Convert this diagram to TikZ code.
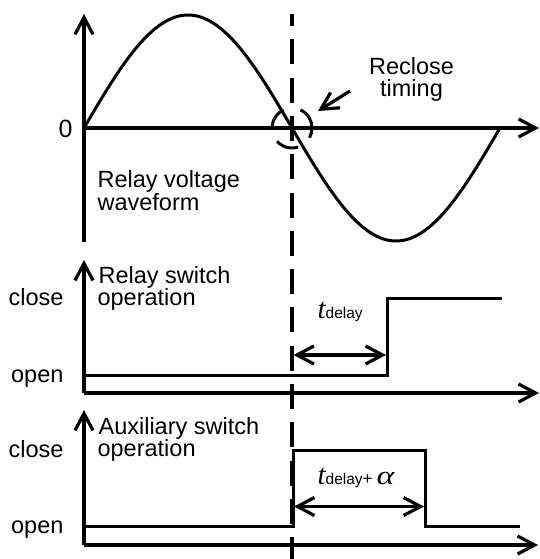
\documentclass[tikz,border=0pt]{standalone}
\usepackage{fontspec}
\setmainfont{Liberation Sans}
\newfontfamily\serifont{Liberation Serif}
\usetikzlibrary{arrows.meta}
\begin{document}
\begin{tikzpicture}[x=1pt,y=-1pt,
  line width=3.2pt,
  barb/.tip={Straight Barb[length=17pt,width=18pt]},
  ax/.style={-barb},
  dbl/.style={barb-barb},
  wave/.style={line width=3pt},
  level/.style={line width=3pt},
  guide/.style={line width=3.2pt, dash pattern=on 25pt off 13.3pt, dash phase=13pt},
  ring/.style={line width=3pt},
  lbl/.style={inner sep=0pt, font=\fontsize{23.5}{24}\selectfont}]
\useasboundingbox (0,0) rectangle (540,559);

% ---------- top panel: relay voltage ----------
\coordinate (o1) at (84,128);
\coordinate (y1top) at (84,14);
\coordinate (y1bot) at (84,242);
\coordinate (x1end) at (539,128);
\draw[ax] (y1bot) -- (y1top);
\draw[ax] (o1) -- (x1end);
\draw[wave] plot[domain=0:416, samples=140, smooth] ({84+\x}, {128-113*sin(\x/208*180)});

\node[lbl, anchor=base] (zero) at (65.5,137) {\fontsize{25}{25}\selectfont 0};
\node[lbl, anchor=base] (rc1) at (411.5,75) {Reclose};
\node[lbl, anchor=base] (rc2) at (411.5,97) {timing};
\node[lbl, anchor=base west] (rv1) at (96,187) {Relay voltage};
\node[lbl, anchor=base west] (rv2) at (96,210) {waveform};

% reclose marker
\coordinate (cross) at (292,128);
\draw[ring] (cross) ++(-115:20) arc[start angle=-115, end angle=-175, radius=20];
\draw[ring] (cross) ++(-222:20) arc[start angle=-222, end angle=-288, radius=20];
\draw[ring] (cross) ++(29:20) arc[start angle=29, end angle=-65, radius=20];
\coordinate (rcfrom) at (350,91);
\coordinate (rcto) at (318,111);
\draw[ax] (rcfrom) -- (rcto);

% ---------- dashed timing line ----------
\coordinate (dtop) at (292,14);
\coordinate (dbot) at (292,559);
\draw[guide] (dtop) -- (dbot);

% ---------- middle panel: relay switch ----------
\coordinate (o2) at (84,393);
\coordinate (y2top) at (84,260);
\coordinate (x2end) at (539,393);
\draw[ax] (o2) -- (y2top);
\draw[ax] (o2) -- (x2end);
\coordinate (r0) at (84,375);
\coordinate (r1) at (387,375);
\coordinate (r2) at (387,298);
\coordinate (r3) at (502,298);
\draw[level] (r0) -- (r1) -- (r2) -- (r3);
\coordinate (d2a) at (293.5,355);
\coordinate (d2b) at (386,355);
\draw[dbl] (d2a) -- (d2b);
\node[lbl, anchor=base west] (td1) at (316,318)
  {{\serifont\itshape\fontsize{29}{29}\selectfont t}{\fontsize{15.5}{16}\selectfont delay}};
\node[lbl, anchor=base east] (cl2) at (65,305) {close};
\node[lbl, anchor=base east] (op2) at (65,382) {open};
\node[lbl, anchor=base west] (rs1) at (97,283) {Relay switch};
\node[lbl, anchor=base west] (rs2) at (96,305.5) {operation};

% ---------- bottom panel: auxiliary switch ----------
\coordinate (o3) at (84,545);
\coordinate (y3top) at (84,410);
\coordinate (x3end) at (538,545);
\draw[ax] (o3) -- (y3top);
\draw[ax] (o3) -- (x3end);
\coordinate (a0) at (84,526);
\coordinate (a1) at (293,526);
\coordinate (a2) at (293,450);
\coordinate (a3) at (425,450);
\coordinate (a4) at (425,526);
\coordinate (a5) at (520,526);
\draw[level] (a0) -- (a1) -- (a2) -- (a3) -- (a4) -- (a5);
\coordinate (d3a) at (294,506.5);
\coordinate (d3b) at (424,506.5);
\draw[dbl] (d3a) -- (d3b);
\node[lbl, anchor=base west] (td2) at (316,484)
  {{\serifont\itshape\fontsize{29}{29}\selectfont t}{\fontsize{15.5}{16}\selectfont delay}{\fontsize{17}{17}\selectfont +}\hspace{4pt}{\serifont\itshape\fontsize{26}{26}\selectfont\scalebox{1.3}[1]{α}}};
\node[lbl, anchor=base east] (cl3) at (65,457) {close};
\node[lbl, anchor=base east] (op3) at (65,533) {open};
\node[lbl, anchor=base west] (as1) at (97,434) {Auxiliary switch};
\node[lbl, anchor=base west] (as2) at (96,456.5) {operation};
\end{tikzpicture}
\end{document}
